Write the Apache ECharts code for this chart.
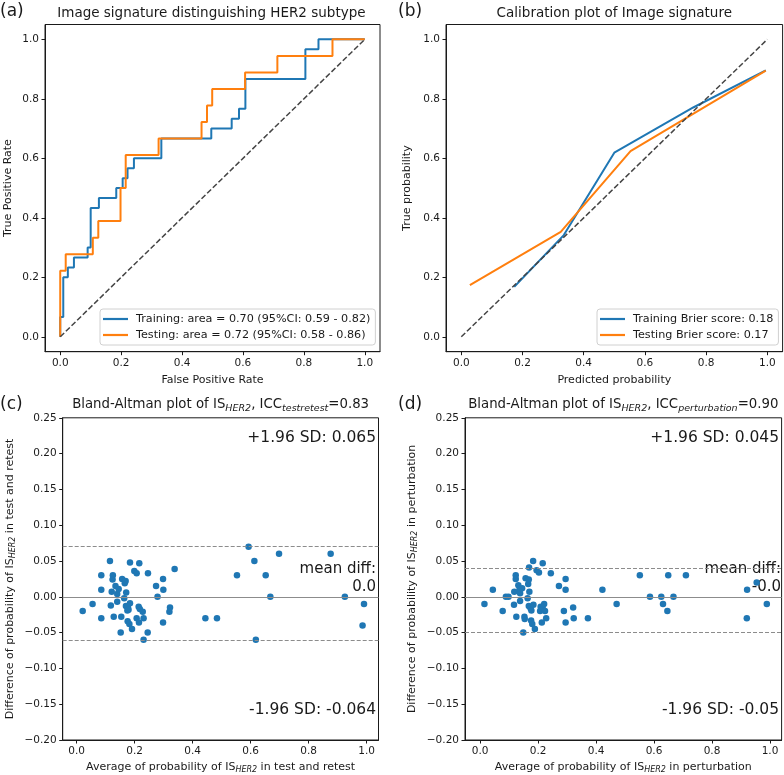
<!DOCTYPE html>
<html><head><meta charset="utf-8">
<script src="https://cdn.jsdelivr.net/npm/echarts@6/dist/echarts.min.js"></script>
<style>html,body{margin:0;padding:0;background:#fff}#c{width:784px;height:775px}</style>
</head><body><div id="c"></div>
<script>
// ---------- DATA ----------
// (a) ROC curves (vertices of the step curves)
const rocTrainFpr = [0,0,0.01,0.01,0.025,0.025,0.045,0.045,0.09,0.09,0.1,0.1,0.127,0.127,0.184,0.184,0.205,0.205,0.221,0.221,0.242,0.242,0.332,0.332,0.496,0.496,0.563,0.563,0.587,0.587,0.608,0.608,0.805,0.805,0.848,0.848,1];
const rocTrainTpr = [0,0.067,0.067,0.2,0.2,0.233,0.233,0.267,0.267,0.3,0.3,0.433,0.433,0.467,0.467,0.5,0.5,0.533,0.533,0.567,0.567,0.6,0.6,0.667,0.667,0.7,0.7,0.733,0.733,0.767,0.767,0.867,0.867,0.967,0.967,1,1];
const rocTestFpr = [0,0,0.018,0.018,0.107,0.107,0.125,0.125,0.198,0.198,0.215,0.215,0.323,0.323,0.464,0.464,0.482,0.482,0.499,0.499,0.607,0.607,0.713,0.713,0.894,0.894,1];
const rocTestTpr = [0,0.222,0.222,0.278,0.278,0.333,0.333,0.389,0.389,0.5,0.5,0.611,0.611,0.667,0.667,0.722,0.722,0.778,0.778,0.833,0.833,0.889,0.889,0.944,0.944,1,1];
const rocNames = ['Training: area = 0.70 (95%CI: 0.59 - 0.82)', 'Testing: area = 0.72 (95%CI: 0.58 - 0.86)'];
// (b) calibration
const calTrainPred = [0.173,0.335,0.5,0.758,0.995];
const calTrainTrue = [0.168,0.342,0.619,0.771,0.896];
const calTestPred = [0.028,0.325,0.553,0.995];
const calTestTrue = [0.174,0.353,0.624,0.895];
const calNames = ['Training Brier score: 0.18', 'Testing Brier score: 0.17'];
// diagonal reference
const diagX = [0,1];
const diagY = [0,1];
// (c) Bland-Altman test-retest
const baTRx = [0.021,0.055,0.085,0.085,0.085,0.115,0.118,0.121,0.125,0.124,0.128,0.134,0.140,0.145,0.140,0.152,0.154,0.157,0.166,0.169,0.171,0.164,0.170,0.177,0.175,0.179,0.184,0.184,0.176,0.182,0.191,0.199,0.207,0.216,0.207,0.214,0.218,0.215,0.228,0.231,0.231,0.245,0.246,0.274,0.279,0.298,0.299,0.298,0.320,0.322,0.338,0.444,0.484,0.553,0.593,0.613,0.618,0.652,0.668,0.698,0.876,0.925,0.991,0.986];
const baTRy = [-0.020,-0.010,0.030,0.010,-0.030,0.050,-0.012,0.007,0.030,0.024,-0.028,0.015,0.004,0.011,-0.007,-0.050,-0.028,0.025,0.019,0.022,0.006,-0.002,-0.013,-0.015,-0.019,-0.018,-0.009,0.048,-0.034,-0.038,-0.045,0.036,0.033,0.047,-0.030,-0.014,-0.017,-0.036,-0.021,-0.030,-0.060,-0.050,0.033,0.015,0.000,0.025,0.010,-0.036,-0.021,-0.015,0.039,-0.030,-0.030,0.030,0.070,0.050,-0.060,0.030,0.000,0.060,0.060,0.000,-0.010,-0.040];
const baTRLimits = [0.065, 0.0, -0.064]; // +1.96SD, mean, -1.96SD
// (d) Bland-Altman perturbation
const baPTx = [0.015,0.044,0.078,0.089,0.098,0.117,0.118,0.123,0.123,0.125,0.132,0.136,0.138,0.145,0.138,0.149,0.153,0.154,0.157,0.166,0.168,0.169,0.164,0.168,0.170,0.174,0.177,0.176,0.180,0.183,0.184,0.189,0.195,0.203,0.207,0.209,0.213,0.216,0.216,0.221,0.224,0.228,0.244,0.272,0.289,0.295,0.295,0.295,0.321,0.323,0.372,0.422,0.471,0.551,0.586,0.625,0.631,0.646,0.649,0.667,0.710,0.920,0.921,0.954,0.989];
const baPTy = [-0.010,0.010,-0.020,0.000,0.000,-0.011,0.007,0.030,0.025,-0.028,0.016,0.010,-0.006,0.012,0.005,-0.050,-0.028,-0.031,0.026,0.018,0.024,0.041,-0.002,-0.013,0.007,-0.016,-0.019,-0.033,-0.038,0.050,-0.011,-0.045,0.037,0.034,-0.020,-0.014,-0.036,0.047,-0.016,-0.010,-0.020,-0.030,0.033,0.015,-0.020,0.025,0.010,-0.036,-0.015,-0.030,-0.030,0.010,-0.010,0.030,0.000,0.000,-0.010,-0.020,0.030,0.000,0.030,-0.030,0.010,0.020,-0.010];
const baPTLimits = [0.045, -0.002, -0.05];
// ticks
const probTicks = [0,0.2,0.4,0.6,0.8,1.0];
const baYTicks = [-0.2,-0.15,-0.1,-0.05,0,0.05,0.1,0.15,0.2,0.25];

// ---------- CHART ----------
const F = 'DejaVu Sans';
const INK = '#1a1a1a';
const BLUE = '#1f77b4', ORANGE = '#ff7f0e';
const pair = (xs, ys) => xs.map((x, i) => [x, ys[i]]);
const fmt1 = v => v.toFixed(1);
const fmt2 = v => (v < -1e-9 ? '\u2212' : '') + Math.abs(v).toFixed(2);
const sub = fs => ({ sub: { fontSize: fs, fontStyle: 'italic', fontFamily: F, verticalAlign: 'bottom', lineHeight: fs * 0.8, color: INK } });

function axis(gridIndex, min, max, ticks, fmt, name, nameGap) {
  return {
    type: 'value', gridIndex, min, max, name, nameLocation: 'middle', nameGap,
    nameTextStyle: { fontFamily: F, fontSize: 11, color: INK, lineHeight: 14, rich: sub(8) },
    axisLine: { show: true, onZero: false, lineStyle: { color: INK, width: 1 } },
    axisTick: { show: true, inside: false, length: 3.5, customValues: ticks, lineStyle: { color: INK, width: 1 } },
    axisLabel: { customValues: ticks, formatter: fmt, fontFamily: F, fontSize: 10.5, color: INK, margin: 6 },
    splitLine: { show: false }
  };
}
const gridBase = { show: true, borderColor: INK, borderWidth: 1, backgroundColor: 'transparent', containLabel: false };

function baLines(lim) {
  const dash = { type: [4, 2], color: '#8c8c8c', width: 1 };
  return {
    symbol: ['none', 'none'], silent: true, animation: false, label: { show: false },
    data: [
      { yAxis: lim[0], lineStyle: dash },
      { yAxis: lim[1], lineStyle: { type: 'solid', color: '#8c8c8c', width: 1.2 } },
      { yAxis: lim[2], lineStyle: dash }
    ]
  };
}

function txt(x, y, text, size, align, rich) {
  return { type: 'text', x, y, silent: true, style: { text, font: size + 'px "' + F + '"', fill: INK, align, verticalAlign: 'middle', lineHeight: size + 3, rich: rich } };
}
function legendAt(names, left) {
  return { data: names, left, top: 309, orient: 'vertical', icon: 'rect', itemWidth: 25, itemHeight: 2.2, itemGap: 4,
    padding: [4, 5, 4, 3], backgroundColor: 'rgba(255,255,255,0.85)', borderColor: '#d0d0d0', borderWidth: 1, borderRadius: 3,
    textStyle: { fontFamily: F, fontSize: 11.2, color: INK, lineHeight: 12, padding: [0, 0, 0, 3] }, selectedMode: false };
}

const option = {
  animation: false,
  backgroundColor: '#fff',
  textStyle: { fontFamily: F },
  grid: [
    Object.assign({ left: 42.7, top: 24.5, width: 337.3, height: 327.2 }, gridBase),
    Object.assign({ left: 446, top: 24.5, width: 336.6, height: 327.2 }, gridBase),
    Object.assign({ left: 62.7, top: 417.8, width: 315.8, height: 322.2 }, gridBase),
    Object.assign({ left: 465, top: 417.8, width: 316.6, height: 322.2 }, gridBase)
  ],
  xAxis: [
    axis(0, -0.05, 1.05, probTicks, fmt1, 'False Positive Rate', 21),
    axis(1, -0.05, 1.05, probTicks, fmt1, 'Predicted probability', 21),
    axis(2, -0.048, 1.041, probTicks, fmt1, 'Average of probability of IS{sub|HER2} in test and retest', 20),
    axis(3, -0.052, 1.04, probTicks, fmt1, 'Average of probability of IS{sub|HER2} in perturbation', 20)
  ],
  yAxis: [
    axis(0, -0.05, 1.05, probTicks, fmt1, 'True Positive Rate', 30),
    axis(1, -0.05, 1.05, probTicks, fmt1, 'True probability', 32),
    axis(2, -0.2, 0.25, baYTicks, fmt2, 'Difference of probability of IS{sub|HER2} in test and retest', 46),
    axis(3, -0.2, 0.25, baYTicks, fmt2, 'Difference of probability of IS{sub|HER2} in perturbation', 46)
  ],
  legend: [ legendAt(rocNames, 100), legendAt(calNames, 597) ],
  series: [
    { name: rocNames[0], type: 'line', xAxisIndex: 0, yAxisIndex: 0, data: pair(rocTrainFpr, rocTrainTpr), symbol: 'none', lineStyle: { color: BLUE, width: 2 }, itemStyle: { color: BLUE } },
    { name: rocNames[1], type: 'line', xAxisIndex: 0, yAxisIndex: 0, data: pair(rocTestFpr, rocTestTpr), symbol: 'none', lineStyle: { color: ORANGE, width: 2 }, itemStyle: { color: ORANGE } },
    { name: 'diagA', type: 'line', xAxisIndex: 0, yAxisIndex: 0, data: pair(diagX, diagY), symbol: 'none', lineStyle: { color: '#444', width: 1.5, type: [5.5, 2.4] } },
    { name: calNames[0], type: 'line', xAxisIndex: 1, yAxisIndex: 1, data: pair(calTrainPred, calTrainTrue), symbol: 'none', lineStyle: { color: BLUE, width: 2 }, itemStyle: { color: BLUE } },
    { name: calNames[1], type: 'line', xAxisIndex: 1, yAxisIndex: 1, data: pair(calTestPred, calTestTrue), symbol: 'none', lineStyle: { color: ORANGE, width: 2 }, itemStyle: { color: ORANGE } },
    { name: 'diagB', type: 'line', xAxisIndex: 1, yAxisIndex: 1, data: pair(diagX, diagY), symbol: 'none', lineStyle: { color: '#444', width: 1.5, type: [5.5, 2.4] } },
    { name: 'baTR', type: 'scatter', xAxisIndex: 2, yAxisIndex: 2, data: pair(baTRx, baTRy), symbolSize: 6.5, itemStyle: { color: BLUE, opacity: 1 }, markLine: baLines(baTRLimits) },
    { name: 'baPT', type: 'scatter', xAxisIndex: 3, yAxisIndex: 3, data: pair(baPTx, baPTy), symbolSize: 6.5, itemStyle: { color: BLUE, opacity: 1 }, markLine: baLines(baPTLimits) }
  ],
  graphic: [
    txt(0, 12, '(a)', 17, 'left'),
    txt(398, 12, '(b)', 17, 'left'),
    txt(0, 405, '(c)', 17, 'left'),
    txt(398, 405, '(d)', 17, 'left'),
    txt(211.4, 13, 'Image signature distinguishing HER2 subtype', 13.5, 'center'),
    txt(614.3, 13, 'Calibration plot of Image signature', 13.5, 'center'),
    txt(220.6, 405, 'Bland-Altman plot of IS{sub|HER2}, ICC{sub|testretest}=0.83', 13.3, 'center', sub(9.5)),
    txt(623.3, 405, 'Bland-Altman plot of IS{sub|HER2}, ICC{sub|perturbation}=0.90', 13.3, 'center', sub(9.5)),
    txt(376, 438, '+1.96 SD: 0.065', 15.5, 'right'),
    txt(376, 569, 'mean diff:', 15, 'right'),
    txt(376, 587, '0.0', 15, 'right'),
    txt(376, 710, '-1.96 SD: -0.064', 15.5, 'right'),
    txt(779, 438, '+1.96 SD: 0.045', 15.5, 'right'),
    txt(781, 569, 'mean diff:', 15, 'right'),
    txt(781, 587, '-0.0', 15, 'right'),
    txt(779, 710, '-1.96 SD: -0.05', 15.5, 'right')
  ]
};
const chart = echarts.init(document.getElementById('c'), null, { renderer: 'canvas' });
chart.setOption(option);
</script>
</body></html>
